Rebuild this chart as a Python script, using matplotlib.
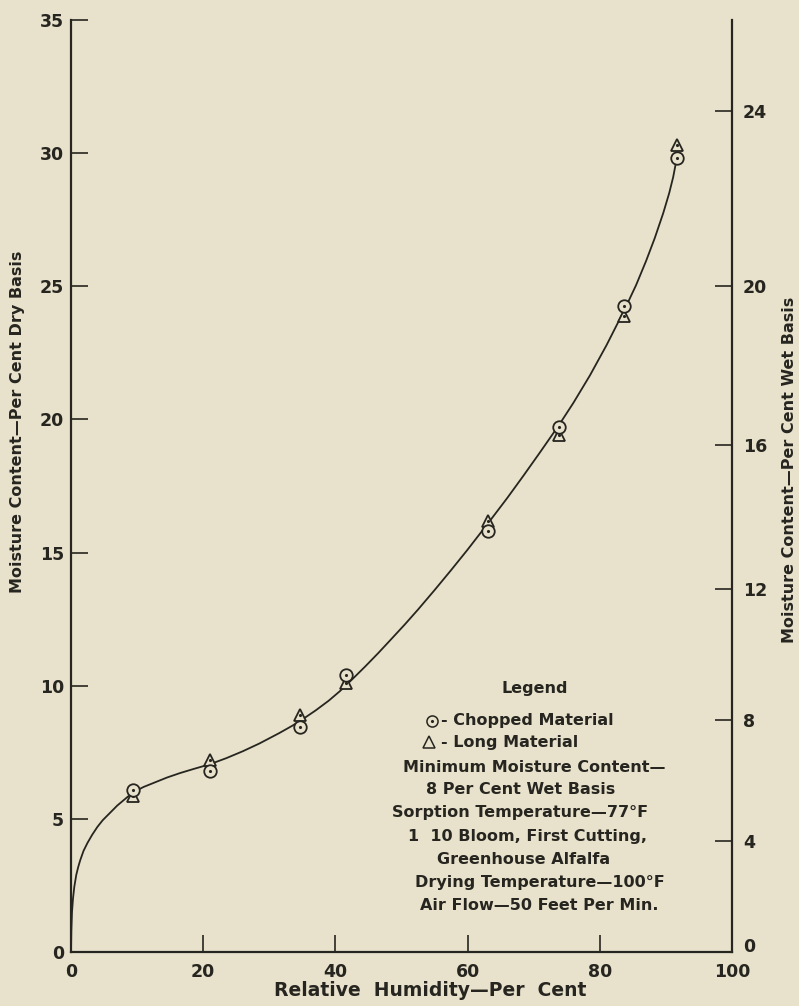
import matplotlib
matplotlib.use('Agg')
import matplotlib.pyplot as plt
from matplotlib.transforms import ScaledTranslation

# Chopped material (circles) and long material (triangles), dry basis %
rh_points = [9.4, 21.0, 34.6, 41.6, 63.1, 73.8, 83.7, 91.7]
chopped = [6.1, 6.8, 8.45, 10.4, 15.8, 19.7, 24.25, 29.8]
long_mat = [5.85, 7.2, 8.9, 10.1, 16.2, 19.4, 23.9, 30.3]

# fitted curve
curve_rh = [0, 0.05, 0.15, 0.3, 0.5, 0.8, 1.1, 1.4, 1.9, 2.5, 3.2, 4.0, 4.8,
            5.8, 7.0, 8.2, 9.4, 11.0, 12.5, 14.5, 16.5, 18.5, 21.0, 23.5, 26.0,
            28.5, 31.5, 33.5, 35.1, 37.0, 39.0, 40.7, 42.5, 44.5, 46.5, 48.3,
            50.5, 52.5, 55.0, 57.5, 60.0, 63.4, 66.0, 68.4, 71.0, 73.8, 76.0,
            78.5, 81.0, 83.7, 85.5, 87.0, 88.3, 89.6, 90.5, 91.1, 91.6]
curve_dry = [0, 0.8, 1.5, 2.0, 2.45, 2.9, 3.2, 3.45, 3.8, 4.1, 4.4, 4.7, 4.95,
             5.2, 5.5, 5.75, 6.0, 6.2, 6.35, 6.55, 6.72, 6.87, 7.05, 7.28, 7.54,
             7.83, 8.22, 8.5, 8.75, 9.07, 9.44, 9.8, 10.23, 10.72, 11.23, 11.71,
             12.3, 12.86, 13.59, 14.34, 15.11, 16.2, 17.05, 17.87, 18.78, 19.78,
             20.62, 21.65, 22.78, 24.1, 25.05, 25.95, 26.8, 27.75, 28.5, 29.1, 29.75]

x_ticks = [0, 20, 40, 60, 80, 100]
dry_ticks = [0, 5, 10, 15, 20, 25, 30, 35]
wet_ticks = [0, 4, 8, 12, 16, 20, 24]

legend_lines = ["Minimum Moisture Content\u2014",
                "8 Per Cent Wet Basis",
                "Sorption Temperature\u201477\u00b0F",
                "1  10 Bloom, First Cutting,",
                "Greenhouse Alfalfa",
                "Drying Temperature\u2014100\u00b0F",
                "Air Flow\u201450 Feet Per Min."]

BG = '#e8e2cc'
INK = '#26251f'
FONT = 'DejaVu Sans'

def dry_to_wet(d):
    return 100.0 * d / (100.0 + d)

def wet_to_dry(w):
    return 100.0 * w / (100.0 - w)

fig = plt.figure(figsize=(7.99, 10.06), dpi=100, facecolor=BG)
ax = fig.add_axes([71/799, 1 - 952/1006, (732 - 71)/799, (952 - 20)/1006])
ax.set_facecolor(BG)

ax.plot(curve_rh, curve_dry, color=INK, lw=1.3, zorder=2)
ax.plot(rh_points, chopped, 'o', ms=9, mfc=BG, mec=INK, mew=1.3, zorder=4)
ax.plot(rh_points, chopped, '.', ms=2.5, color=INK, zorder=5)
ax.plot(rh_points, long_mat, '^', ms=9, mfc=BG, mec=INK, mew=1.3, zorder=3)
ax.plot(rh_points, long_mat, '.', ms=2.5, color=INK, zorder=3.5)

ax.set_xlim(0, 100)
ax.set_ylim(0, 35)
ax.set_xticks(x_ticks)
ax.set_yticks(dry_ticks)
for s in ['top', 'right']:
    ax.spines[s].set_visible(False)
for s in ['left', 'bottom']:
    ax.spines[s].set_color(INK)
    ax.spines[s].set_linewidth(1.6)
ax.tick_params(direction='in', length=12, width=1.2, color=INK, labelcolor=INK,
               labelsize=12.5, pad=5)
ax.tick_params(axis='x', pad=8)
for lab in ax.get_xticklabels() + ax.get_yticklabels():
    lab.set_fontfamily(FONT)
    lab.set_fontweight('bold')

sec = ax.secondary_yaxis('right', functions=(dry_to_wet, wet_to_dry))
sec.set_yticks(wet_ticks)
sec.spines['right'].set_color(INK)
sec.spines['right'].set_linewidth(1.6)
sec.tick_params(direction='in', length=12, width=1.2, color=INK, labelcolor=INK,
                labelsize=12.5, pad=8)
for lab in sec.get_yticklabels():
    lab.set_fontfamily(FONT)
    lab.set_fontweight('bold')
# the right-hand 0 sits a little above the corner in the original
zero_lab = sec.get_yticklabels()[0]
zero_lab.set_transform(zero_lab.get_transform() +
                       ScaledTranslation(0, 7/100, fig.dpi_scale_trans))

tkw = dict(color=INK, family=FONT, fontweight='bold')
fig.text(430/799, 1 - 990/1006, "Relative  Humidity\u2014Per  Cent", ha='center',
         va='center', fontsize=13.5, **tkw)
fig.text(18/799, 1 - 422/1006, "Moisture Content\u2014Per Cent Dry Basis",
         rotation=90, ha='center', va='center', fontsize=11.5, **tkw)
fig.text(789/799, 1 - 470/1006, "Moisture Content\u2014Per Cent Wet Basis",
         rotation=90, ha='center', va='center', fontsize=11.5, **tkw)

# legend block
fig.text(535/799, 1 - 688/1006, "Legend", ha='center', va='center', fontsize=11.5, **tkw)
fig.text(441/799, 1 - 721/1006, "- Chopped Material", ha='left', va='center',
         fontsize=11.5, **tkw)
fig.text(441/799, 1 - 743/1006, "- Long Material", ha='left', va='center',
         fontsize=11.5, **tkw)
ax.plot([432/799], [1 - 721/1006], 'o', ms=8, mfc=BG, mec=INK, mew=1.1,
        transform=fig.transFigure, clip_on=False)
ax.plot([432/799], [1 - 721/1006], '.', ms=2.5, color=INK,
        transform=fig.transFigure, clip_on=False)
ax.plot([429/799], [1 - 742/1006], '^', ms=8, mfc=BG, mec=INK, mew=1.1,
        transform=fig.transFigure, clip_on=False)
centers = [534, 521, 520, 527, 524, 540, 539]
for i, (txt, cx) in enumerate(zip(legend_lines, centers)):
    fig.text(cx/799, 1 - (767 + 23 * i)/1006, txt, ha='center', va='center',
             fontsize=11.5, **tkw)

fig.savefig('out.png', dpi=100, facecolor=BG)
